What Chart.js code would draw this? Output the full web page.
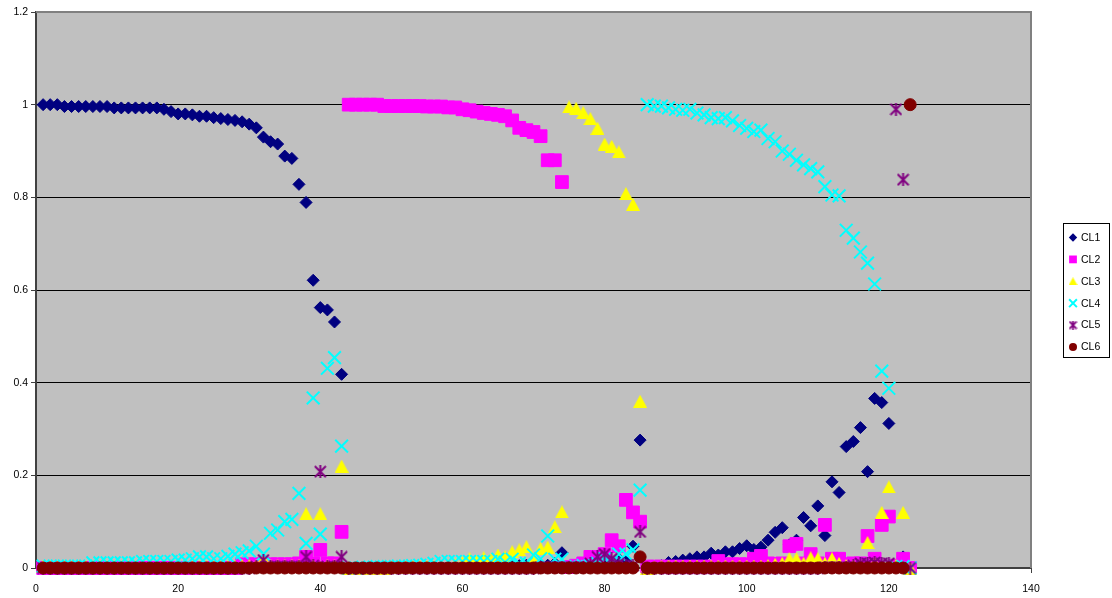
<!DOCTYPE html>
<html lang="en">
<head>
<meta charset="UTF-8">
<title>CL membership</title>
<style>
* { margin: 0; padding: 0; box-sizing: border-box; }
body { background: #fff; width: 1112px; height: 598px; overflow: hidden; }
#chart { display: block; }
</style>
</head>
<body>
<canvas id="chart" width="1112" height="598"></canvas>
<script src="https://cdn.jsdelivr.net/npm/chart.js@4.4.1/dist/chart.umd.min.js"></script>
<script>
// tick labels
var xTicks = [0, 20, 40, 60, 80, 100, 120, 140];
var yTicks = [0, 0.2, 0.4, 0.6, 0.8, 1, 1.2];
var seriesNames = ['CL1', 'CL2', 'CL3', 'CL4', 'CL5', 'CL6'];

// membership values for observations 1..123
var cl1 = [
    1.0, 1.0, 1.0, 0.996, 0.996, 0.996, 0.996, 0.996, 0.996, 0.996,
    0.993, 0.993, 0.993, 0.993, 0.993, 0.993, 0.993, 0.99, 0.985, 0.98,
    0.98, 0.978, 0.975, 0.975, 0.972, 0.97, 0.968, 0.966, 0.963, 0.958,
    0.95, 0.93, 0.92, 0.915, 0.889, 0.884, 0.828, 0.789, 0.621, 0.562,
    0.557, 0.531, 0.418, 0, 0, 0, 0, 0, 0, 0,
    0, 0, 0, 0, 0, 0, 0, 0, 0, 0.002,
    0.002, 0.003, 0.003, 0.004, 0.005, 0.005, 0.006, 0.005, 0.006, 0.008,
    0.005, 0.006, 0.01, 0.033, 0.002, 0.002, 0.002, 0.003, 0.003, 0.005,
    0.008, 0.02, 0.015, 0.047, 0.276, 0, 0.002, 0.005, 0.012, 0.014,
    0.017, 0.02, 0.024, 0.024, 0.032, 0.028, 0.035, 0.035, 0.042, 0.048,
    0.04, 0.045, 0.06, 0.077, 0.087, 0.05, 0.06, 0.109, 0.091, 0.134,
    0.07, 0.186, 0.163, 0.262, 0.273, 0.303, 0.208, 0.366, 0.357, 0.312,
    0.005, 0.024, 0
];
var cl2 = [
    0, 0, 0, 0, 0, 0, 0, 0, 0, 0,
    0, 0, 0, 0, 0, 0, 0, 0, 0, 0,
    0, 0, 0, 0, 0, 0, 0, 0, 0.008, 0.008,
    0.008, 0.008, 0.008, 0.008, 0.008, 0.008, 0.01, 0.024, 0.01, 0.039,
    0.01, 0.01, 0.078, 1.0, 1.0, 1.0, 1.0, 1.0, 0.997, 0.997,
    0.997, 0.997, 0.997, 0.997, 0.996, 0.996, 0.996, 0.994, 0.994, 0.99,
    0.988, 0.985, 0.982, 0.98, 0.978, 0.975, 0.966, 0.95, 0.945, 0.941,
    0.932, 0.88, 0.88, 0.833, 0.002, 0.005, 0.01, 0.024, 0.024, 0.03,
    0.06, 0.047, 0.147, 0.12, 0.1, 0.003, 0.003, 0.003, 0.003, 0.003,
    0.003, 0.003, 0.003, 0.003, 0.003, 0.015, 0.008, 0.008, 0.008, 0.008,
    0.02, 0.026, 0.01, 0.008, 0.01, 0.047, 0.052, 0.01, 0.03, 0.01,
    0.093, 0.02, 0.02, 0.008, 0.01, 0.01, 0.069, 0.02, 0.093, 0.111,
    0.005, 0.02, 0
];
var cl3 = [
    0.003, 0.003, 0.003, 0.003, 0.003, 0.003, 0.003, 0.003, 0.003, 0.003,
    0.003, 0.003, 0.003, 0.003, 0.003, 0.003, 0.003, 0.003, 0.003, 0.003,
    0.003, 0.003, 0.003, 0.003, 0.003, 0.003, 0.003, 0.003, 0.005, 0.005,
    0.005, 0.02, 0.005, 0.005, 0.005, 0.005, 0.005, 0.117, 0.005, 0.117,
    0.005, 0.005, 0.22, 0, 0, 0, 0, 0, 0, 0.002,
    0.002, 0.002, 0.003, 0.003, 0.003, 0.003, 0.003, 0.005, 0.008, 0.012,
    0.02, 0.015, 0.022, 0.018, 0.028, 0.024, 0.035, 0.039, 0.046, 0.02,
    0.042, 0.045, 0.089, 0.121, 0.995, 0.992, 0.983, 0.97, 0.949, 0.915,
    0.91, 0.898, 0.808, 0.785, 0.36, 0, 0.002, 0.003, 0.004, 0.004,
    0.004, 0.004, 0.004, 0.004, 0.004, 0.004, 0.004, 0.004, 0.004, 0.004,
    0.004, 0.004, 0.005, 0.008, 0.01, 0.02, 0.02, 0.01, 0.022, 0.02,
    0.01, 0.02, 0.01, 0.005, 0.005, 0.005, 0.055, 0.01, 0.12, 0.175,
    0.005, 0.12, 0
];
var cl4 = [
    0.004, 0.004, 0.004, 0.004, 0.004, 0.004, 0.004, 0.011, 0.011, 0.011,
    0.011, 0.011, 0.011, 0.011, 0.014, 0.014, 0.014, 0.014, 0.014, 0.017,
    0.017, 0.02, 0.024, 0.024, 0.02, 0.02, 0.025, 0.03, 0.033, 0.037,
    0.047, 0.03, 0.075, 0.082, 0.1, 0.105, 0.161, 0.053, 0.367, 0.073,
    0.431, 0.454, 0.263, 0, 0, 0.002, 0.002, 0.003, 0.003, 0.003,
    0.004, 0.004, 0.005, 0.006, 0.008, 0.01, 0.014, 0.014, 0.014, 0.014,
    0.014, 0.014, 0.014, 0.014, 0.019, 0.012, 0.019, 0.01, 0.01, 0.028,
    0.02, 0.069, 0.019, 0.019, 0.002, 0.003, 0.005, 0.005, 0.01, 0.02,
    0.01, 0.03, 0.03, 0.039, 0.168, 1.0, 0.997, 0.997, 0.993, 0.99,
    0.988, 0.99, 0.982, 0.978, 0.972, 0.97, 0.972, 0.965, 0.955, 0.949,
    0.942, 0.945, 0.927, 0.92, 0.9, 0.893, 0.88, 0.87, 0.862, 0.855,
    0.823, 0.805, 0.803, 0.729, 0.712, 0.682, 0.658, 0.613, 0.425, 0.388,
    0.003, 0.003, 0
];
var cl5 = [
    0, 0, 0, 0, 0, 0, 0, 0, 0, 0,
    0, 0, 0, 0, 0, 0, 0, 0, 0, 0,
    0, 0, 0, 0, 0, 0, 0, 0, 0, 0,
    0.003, 0.017, 0.003, 0.003, 0.003, 0.003, 0.003, 0.024, 0.005, 0.208,
    0.003, 0.003, 0.024, 0, 0, 0, 0, 0, 0, 0,
    0, 0, 0, 0, 0, 0, 0, 0, 0, 0,
    0, 0, 0, 0, 0, 0, 0, 0, 0, 0,
    0.002, 0.002, 0.002, 0.002, 0.002, 0.002, 0.002, 0.01, 0.024, 0.03,
    0.02, 0.01, 0.005, 0.005, 0.078, 0, 0, 0, 0, 0,
    0, 0, 0, 0, 0, 0, 0, 0, 0, 0,
    0, 0, 0, 0, 0, 0, 0, 0, 0, 0,
    0.002, 0.002, 0.002, 0.002, 0.005, 0.01, 0.01, 0.012, 0.01, 0.01,
    0.99, 0.838, 0
];
var cl6 = [
    0, 0, 0, 0, 0, 0, 0, 0, 0, 0,
    0, 0, 0, 0, 0, 0, 0, 0, 0, 0,
    0, 0, 0, 0, 0, 0, 0, 0, 0, 0,
    0, 0, 0, 0, 0, 0, 0, 0, 0, 0,
    0, 0, 0, 0, 0, 0, 0, 0, 0, 0,
    0, 0, 0, 0, 0, 0, 0, 0, 0, 0,
    0, 0, 0, 0, 0, 0, 0, 0, 0, 0,
    0, 0, 0, 0, 0, 0, 0, 0, 0, 0,
    0, 0, 0, 0, 0.024, 0, 0, 0, 0, 0,
    0, 0, 0, 0, 0, 0, 0, 0, 0, 0,
    0, 0, 0, 0, 0, 0, 0, 0, 0, 0,
    0, 0, 0, 0, 0, 0, 0, 0, 0, 0,
    0, 0, 1.0
];

// Excel-like marker shapes that Chart.js doesn't have
function triangleMark(w, h) {
    var c = document.createElement('canvas');
    c.width = w; c.height = h;
    var g = c.getContext('2d');
    g.fillStyle = '#ffff00';
    g.beginPath();
    g.moveTo(w / 2, 0);
    g.lineTo(w, h);
    g.lineTo(0, h);
    g.closePath();
    g.fill();
    return c;
}
function starMark(s, lw) {
    var c = document.createElement('canvas');
    c.width = s; c.height = s;
    var g = c.getContext('2d');
    g.strokeStyle = '#800080';
    g.lineWidth = lw;
    var m = lw / 2;
    g.beginPath();
    g.moveTo(m, m); g.lineTo(s - m, s - m);
    g.moveTo(s - m, m); g.lineTo(m, s - m);
    g.moveTo(s / 2, 0); g.lineTo(s / 2, s);
    g.stroke();
    return c;
}
var triBig = triangleMark(14, 13), triSmall = triangleMark(9, 8);
var starBig = starMark(13, 2), starSmall = starMark(9, 1.8);

function toPoints(arr) {
    return arr.map(function(v, i) { return { x: i + 1, y: v }; });
}

var plotFrame = {
    id: 'plotFrame',
    beforeDraw: function(chart) {
        var ctx = chart.ctx, a = chart.chartArea;
        ctx.save();
        ctx.fillStyle = '#c0c0c0';
        ctx.fillRect(a.left, a.top, a.right - a.left, a.bottom - a.top);
        ctx.restore();
    },
    beforeDatasetsDraw: function(chart) {
        var ctx = chart.ctx, a = chart.chartArea;
        ctx.save();
        ctx.strokeStyle = '#808080';
        ctx.lineWidth = 2;
        ctx.beginPath();
        ctx.moveTo(a.left, a.top);
        ctx.lineTo(a.right, a.top);
        ctx.lineTo(a.right, a.bottom);
        ctx.stroke();
        ctx.restore();
    }
};

// legend box on the right, Excel style
var boxLegend = {
    id: 'boxLegend',
    afterDraw: function(chart) {
        var ctx = chart.ctx;
        var small = [
            { pointStyle: 'rectRot', radius: 4.2, borderWidth: 0 },
            { pointStyle: 'rect', radius: 5.5, borderWidth: 0 },
            { pointStyle: triSmall },
            { pointStyle: 'crossRot', radius: 5.5, borderWidth: 2 },
            { pointStyle: starSmall },
            { pointStyle: 'circle', radius: 4, borderWidth: 0 }
        ];
        ctx.save();
        ctx.strokeStyle = '#000';
        ctx.lineWidth = 1;
        ctx.strokeRect(1063.5, 223.5, 46, 134);
        ctx.font = '10.5px "Liberation Sans", Arial, sans-serif';
        ctx.textBaseline = 'middle';
        chart.data.datasets.forEach(function(ds, i) {
            var y = 237.5 + i * 21.9;
            ctx.fillStyle = ds.backgroundColor;
            ctx.strokeStyle = ds.borderColor;
            ctx.lineWidth = small[i].borderWidth || 1;
            Chart.helpers.drawPoint(ctx, Object.assign({ rotation: 0 }, small[i]), 1073, y);
            ctx.fillStyle = '#000';
            ctx.fillText(ds.label, 1081, y + 0.5);
        });
        ctx.restore();
    }
};

var tickFont = { family: '"Liberation Sans", Arial, sans-serif', size: 10.5 };

new Chart(document.getElementById('chart'), {
    type: 'scatter',
    data: {
        datasets: [
            { label: seriesNames[0], data: toPoints(cl1), pointStyle: 'rectRot', pointRadius: 6, borderWidth: 1,
              backgroundColor: '#000080', borderColor: '#000080', order: 6, clip: false },
            { label: seriesNames[1], data: toPoints(cl2), pointStyle: 'rect', pointRadius: 9, borderWidth: 1,
              backgroundColor: '#ff00ff', borderColor: '#ff00ff', order: 5, clip: false },
            { label: seriesNames[2], data: toPoints(cl3), pointStyle: triBig, pointRadius: 7, borderWidth: 0,
              backgroundColor: '#ffff00', borderColor: '#ffff00', order: 4, clip: false },
            { label: seriesNames[3], data: toPoints(cl4), pointStyle: 'crossRot', pointRadius: 9, borderWidth: 2,
              backgroundColor: '#00ffff', borderColor: '#00ffff', order: 3, clip: false },
            { label: seriesNames[4], data: toPoints(cl5), pointStyle: starBig, pointRadius: 7, borderWidth: 0,
              backgroundColor: '#800080', borderColor: '#800080', order: 2, clip: false },
            { label: seriesNames[5], data: toPoints(cl6), pointStyle: 'circle', pointRadius: 6, borderWidth: 1,
              backgroundColor: '#800000', borderColor: '#800000', order: 1, clip: false }
        ]
    },
    options: {
        responsive: false,
        animation: false,
        devicePixelRatio: 1,
        layout: { padding: { top: 12, right: 81, left: 0, bottom: 0 } },
        plugins: {
            legend: { display: false },
            tooltip: { enabled: false }
        },
        scales: {
            x: {
                type: 'linear', min: 0, max: 140,
                afterBuildTicks: function(s) { s.ticks = xTicks.map(function(v) { return { value: v }; }); },
                afterFit: function(s) { s.height = 30; },
                grid: { drawOnChartArea: false, tickLength: 5, tickColor: '#404040' },
                border: { color: '#404040', width: 2 },
                ticks: { color: '#000', font: tickFont, padding: 10, maxRotation: 0, autoSkip: false,
                         callback: function(v) { return String(v); } }
            },
            y: {
                type: 'linear', min: 0, max: 1.2,
                afterBuildTicks: function(s) { s.ticks = yTicks.map(function(v) { return { value: v }; }); },
                afterFit: function(s) { s.width = 36; },
                grid: {
                    color: function(c) {
                        var v = c.tick ? c.tick.value : null;
                        return (v === 0 || v === 1.2) ? 'rgba(0,0,0,0)' : '#000';
                    },
                    lineWidth: 1, tickLength: 5, tickColor: '#404040'
                },
                border: { color: '#404040', width: 2 },
                ticks: { color: '#000', font: tickFont, padding: 3, autoSkip: false,
                         callback: function(v) { return String(v); } }
            }
        }
    },
    plugins: [plotFrame, boxLegend]
});
</script>
</body>
</html>
